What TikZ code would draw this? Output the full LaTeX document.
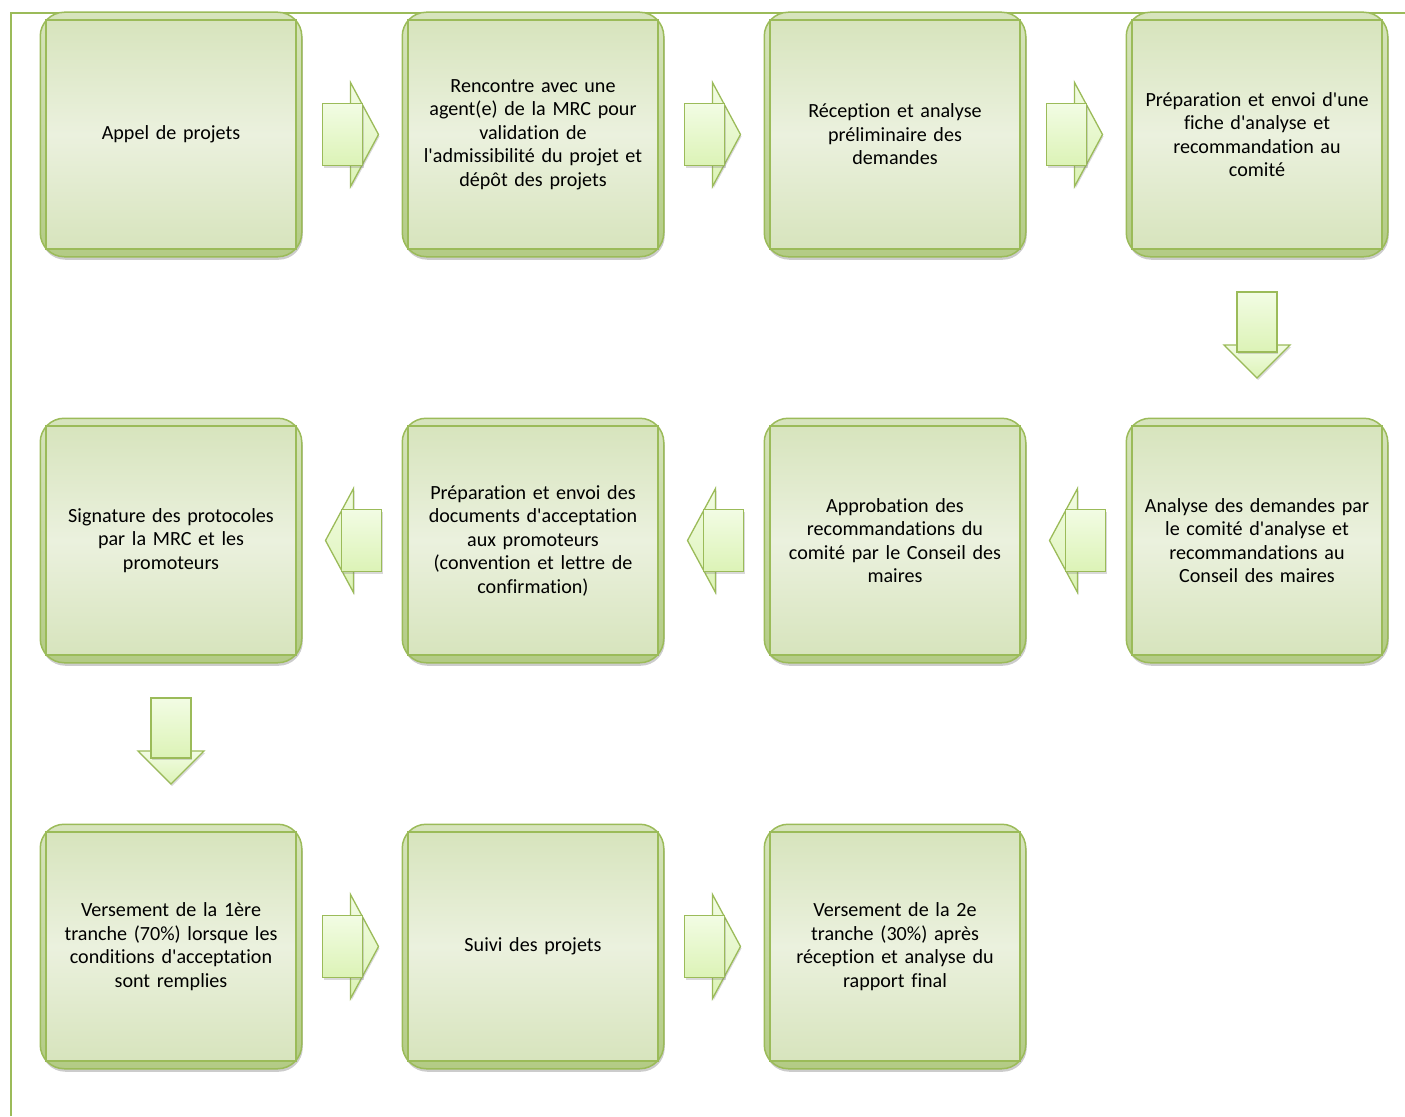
\documentclass[tikz,border=0pt]{standalone}
\usepackage{fontspec}
\newfontfamily\etapefont[Ligatures=NoCommon]{Carlito}
\usetikzlibrary{calc,shadows}
\pgfdeclarelayer{background}
\pgfsetlayers{background,main}
\definecolor{vertbord}{HTML}{9BBB59}
\definecolor{vertclair}{HTML}{EBF1DE}
\definecolor{vertmoyen}{HTML}{D7E4BD}
\definecolor{vertfonce}{HTML}{B3CB85}
\definecolor{flechehaut}{HTML}{F2FCE4}
\definecolor{flechebas}{HTML}{DCF3B6}

\begin{document}
\begin{tikzpicture}[x=1pt,y=1pt,
  etape/.style={draw=vertbord, line width=1.5pt, minimum width=250pt,
    minimum height=229pt, text width=240pt, align=center,
    top color=vertmoyen, bottom color=vertmoyen, middle color=vertclair,
    font=\etapefont\fontsize{20.1}{23.5}\selectfont},
  cadre/.style={draw=vertbord, line width=1.5pt, rounded corners=24pt,
    top color=vertmoyen, bottom color=vertfonce,
    drop shadow={opacity=0.4, shadow xshift=1pt, shadow yshift=-3pt}},
  bord/.style={draw=vertbord, line width=1.6pt},
  fleche/.style={draw=vertbord, line width=1.3pt, line join=miter,
    top color=flechehaut, bottom color=flechebas,
    drop shadow={opacity=0.3, shadow xshift=1pt, shadow yshift=-2pt}},
  flecher/.pic={
    \path[fleche] (-1.5,52) -- (26.5,0) -- (-1.5,-52) -- cycle;
    \path[fleche] (-29.5,-31) rectangle (10.5,31);
  },
  flecheg/.pic={
    \path[fleche] (1.5,52) -- (-26.5,0) -- (1.5,-52) -- cycle;
    \path[fleche] (-10.5,-31) rectangle (29.5,31);
  },
  fleched/.pic={
    \path[fleche] (-33,-7.5) -- (0,-40.5) -- (33,-7.5) -- cycle;
    \path[fleche] (-20,-14.5) rectangle (20,45.5);
  }
]
\useasboundingbox (0,0) rectangle (1405,-1116);

% etapes
\node[etape] (appel) at (171,-134.5) {Appel de projets};
\node[etape] (rencontre) at (533,-134.5) {Rencontre avec une\\agent(e) de la MRC pour\\validation de\\l'admissibilité du projet et\\dépôt des projets};
\node[etape] (reception) at (895,-134.5) {Réception et analyse\\préliminaire des\\demandes};
\node[etape] (fiche) at (1257,-134.5) {Préparation et envoi d'une\\fiche d'analyse et\\recommandation au\\comité};
\node[etape] (analyse) at (1257,-540.5) {Analyse des demandes par\\le comité d'analyse et\\recommandations au\\Conseil des maires};
\node[etape] (approbation) at (895,-540.5) {Approbation des\\recommandations du\\comité par le Conseil des\\maires};
\node[etape] (documents) at (533,-540.5) {Préparation et envoi des\\documents d'acceptation\\aux promoteurs\\(convention et lettre de\\confirmation)};
\node[etape] (signature) at (171,-540.5) {Signature des protocoles\\par la MRC et les\\promoteurs};
\node[etape] (versement1) at (171,-946.5) {Versement de la 1ère\\tranche (70\%) lorsque les\\conditions d'acceptation\\sont remplies};
\node[etape] (suivi) at (533,-946.5) {Suivi des projets};
\node[etape] (versement2) at (895,-946.5) {Versement de la 2e\\tranche (30\%) après\\réception et analyse du\\rapport final};

% cadre et fonds arrondis
\begin{pgfonlayer}{background}
\draw[bord] (11,-1116) -- (11,-13) -- (1405,-13);
\foreach \n in {appel,rencontre,reception,fiche,analyse,approbation,
  documents,signature,versement1,suivi,versement2}
  \path[cadre] ([shift={(-5,7)}]\n.north west) rectangle ([shift={(5,-7)}]\n.south east);
\end{pgfonlayer}

% fleches
\pic at ($(appel)!0.5!(rencontre)$) {flecher};
\pic at ($(rencontre)!0.5!(reception)$) {flecher};
\pic at ($(reception)!0.5!(fiche)$) {flecher};
\pic at ($(fiche)!0.5!(analyse)$) {fleched};
\pic at ($(analyse)!0.5!(approbation)$) {flecheg};
\pic at ($(approbation)!0.5!(documents)$) {flecheg};
\pic at ($(documents)!0.5!(signature)$) {flecheg};
\pic at ($(signature)!0.5!(versement1)$) {fleched};
\pic at ($(versement1)!0.5!(suivi)$) {flecher};
\pic at ($(suivi)!0.5!(versement2)$) {flecher};
\end{tikzpicture}
\end{document}
